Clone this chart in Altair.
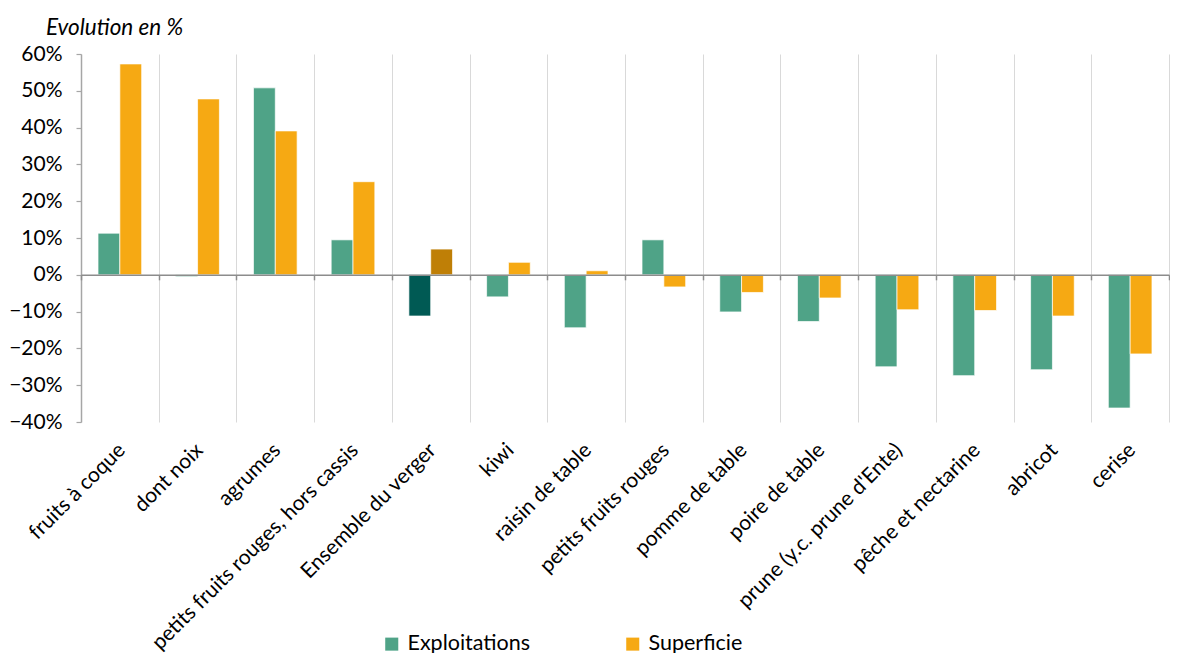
import altair as alt
import pandas as pd

categories = ["fruits à coque", "dont noix", "agrumes", "petits fruits rouges, hors cassis",
              "Ensemble du verger", "kiwi", "raisin de table", "petits fruits rouges",
              "pomme de table", "poire de table", "prune (y.c. prune d'Ente)",
              "pêche et nectarine", "abricot", "cerise"]
exploitations = [11.3, -0.5, 50.8, 9.5, -11.2, -6.0, -14.4, 9.5, -10.1, -12.7, -25.0, -27.4, -25.8, -36.2]
superficie = [57.3, 47.8, 39.1, 25.3, 7.0, 3.4, 1.1, -3.3, -4.8, -6.3, -9.5, -9.7, -11.2, -21.5]
series = ["Exploitations", "Superficie"]
highlight = "Ensemble du verger"
y_ticks = [-40, -30, -20, -10, 0, 10, 20, 30, 40, 50, 60]

rows = []
for c, e, s in zip(categories, exploitations, superficie):
    for ser, v in zip(series, [e, s]):
        key = ser if c != highlight else ser + " (ensemble)"
        rows.append({"cat": c, "series": ser, "key": key, "val": v / 100})
df = pd.DataFrame(rows)

color_domain = ["Exploitations", "Superficie", "Exploitations (ensemble)", "Superficie (ensemble)"]
color_range = ["#4FA387", "#F6A913", "#005A54", "#BF7F06"]

W = 1088
H = 368
ymin, ymax = -0.4, 0.6
zero_offset = -H * (0 - ymin) / (ymax - ymin)
FONT = "Lato"

x_labels = alt.Axis(title=None, labelAngle=-45, labelAlign="right", labelBaseline="top",
                    labelFontSize=21, labelFont=FONT, labelColor="#000000", labelPadding=17,
                    labelOffset=-6, labelLimit=0, domain=False, ticks=False, grid=True,
                    gridColor="#D9D9D9", gridWidth=1, tickBand="extent")

zero_axis = alt.Axis(title=None, orient="bottom", offset=zero_offset, labels=False,
                     domain=True, domainColor="#8C8C8C", domainWidth=1.5, ticks=True,
                     tickBand="extent", tickSize=5, tickColor="#8C8C8C", tickWidth=1.5,
                     grid=False, zindex=1)

bars = alt.Chart(df).mark_bar(stroke="white", strokeWidth=0.7).encode(
    x=alt.X("cat:N", sort=categories, scale=alt.Scale(paddingInner=0, paddingOuter=0), axis=x_labels),
    xOffset=alt.XOffset("series:N", sort=series, scale=alt.Scale(paddingInner=0, paddingOuter=0.78)),
    y=alt.Y("val:Q", scale=alt.Scale(domain=[ymin, ymax], nice=False),
            axis=alt.Axis(title=None, format=".0%", values=[v / 100 for v in y_ticks],
                          labelFontSize=21, labelFont=FONT, labelColor="#000000", labelPadding=14,
                          domainColor="#A6A6A6", domainWidth=1.5, tickColor="#A6A6A6", tickSize=5,
                          tickWidth=1.2, grid=False)),
    color=alt.Color("key:N", scale=alt.Scale(domain=color_domain, range=color_range),
                    legend=alt.Legend(title=None, orient="none", legendX=300, legendY=579,
                                      direction="horizontal", values=series, symbolType="square",
                                      symbolSize=170, symbolStrokeWidth=0, labelFontSize=21.5,
                                      labelFont=FONT, labelColor="#000000", columnPadding=91,
                                      labelOffset=5)),
)

zero = alt.Chart(df).mark_bar(opacity=0).encode(
    x=alt.X("cat:N", sort=categories, scale=alt.Scale(paddingInner=0, paddingOuter=0), axis=zero_axis),
)

chart = alt.layer(bars, zero).resolve_axis(x="independent").properties(
    width=W, height=H,
    padding={"left": 0, "top": 8, "right": 0, "bottom": 0},
    title=alt.TitleParams(text="Evolution en %", anchor="start", frame="group", dx=-35,
                          fontStyle="italic", fontWeight="normal", fontSize=22.5, font=FONT,
                          color="#000000", offset=4),
).configure_view(stroke=None)

chart.save("out.html", embed_options={"renderer": "svg", "actions": False})
